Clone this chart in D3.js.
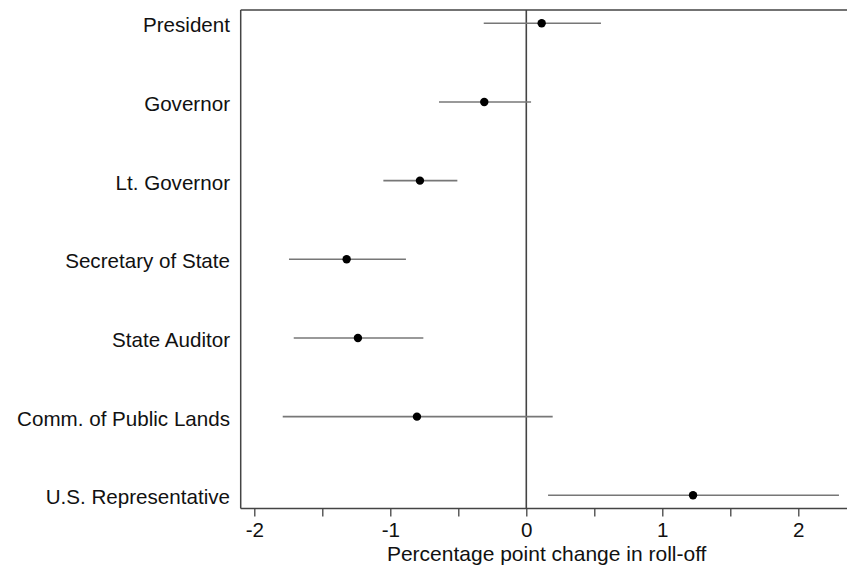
<!DOCTYPE html>
<html>
<head>
<meta charset="utf-8">
<script src="https://cdn.jsdelivr.net/npm/d3@7"></script>
<style>
  html, body { margin: 0; padding: 0; background: #fff; }
  svg { display: block; }
  text { font-family: "Liberation Sans", Arial, Helvetica, sans-serif; fill: #111; }
</style>
</head>
<body>
<svg id="chart" width="847" height="565"></svg>
<script>
const categories = ["President", "Governor", "Lt. Governor", "Secretary of State",
                    "State Auditor", "Comm. of Public Lands", "U.S. Representative"];
const estimates = [0.113, -0.309, -0.782, -1.321, -1.238, -0.804, 1.226];
const lowerCI   = [-0.313, -0.642, -1.051, -1.745, -1.710, -1.791, 0.160];
const upperCI   = [0.549, 0.035, -0.507, -0.885, -0.757, 0.194, 2.299];
const majorTicks = [-2, -1, 0, 1, 2];
const minorTicks = [-1.5, -0.5, 0.5, 1.5];
const xTitle = "Percentage point change in roll-off";

const FS = 20.6;
const svg = d3.select("#chart");
const plotLeft = 240.7, plotTop = 10, plotBottom = 508.5;
const x = d3.scaleLinear().domain([-2.1, 2.36]).range([plotLeft, plotLeft + 4.46 * 136]);
const y = d3.scalePoint().domain(categories).range([23.3, 495.3]);

const rows = categories.map((c, i) => ({c, est: estimates[i], lo: lowerCI[i], hi: upperCI[i]}));

// frame
svg.append("line").attr("x1", plotLeft).attr("x2", 847).attr("y1", plotTop).attr("y2", plotTop)
  .attr("stroke", "#444").attr("stroke-width", 1.5);
svg.append("line").attr("x1", plotLeft).attr("x2", plotLeft).attr("y1", plotTop).attr("y2", plotBottom)
  .attr("stroke", "#444").attr("stroke-width", 1.5);

// zero line
svg.append("line").attr("x1", x(0)).attr("x2", x(0)).attr("y1", plotTop).attr("y2", plotBottom)
  .attr("stroke", "#444").attr("stroke-width", 1.6);

// x axis
const axis = d3.axisBottom(x).tickValues(majorTicks.concat(minorTicks).sort((a,b)=>a-b))
  .tickSize(8).tickPadding(6)
  .tickFormat(d => majorTicks.includes(d) ? String(d) : "");
const gx = svg.append("g").attr("transform", `translate(0,${plotBottom})`).call(axis);
gx.select(".domain").attr("stroke", "#444").attr("stroke-width", 1.5)
  .attr("d", `M${plotLeft},0H847`);
gx.selectAll(".tick line").attr("stroke", "#444").attr("stroke-width", 1.3);
gx.selectAll(".tick text").attr("font-size", FS + "px").attr("fill", "#111")
  .style("font-family", '"Liberation Sans", Arial, sans-serif');

// x title
svg.append("text").attr("x", 546.7).attr("y", 560.7).attr("text-anchor", "middle")
  .attr("font-size", (FS + 0.4) + "px").text(xTitle);

// y labels
svg.append("g").selectAll("text").data(rows).join("text")
  .attr("x", 230).attr("y", d => y(d.c) + 9).attr("text-anchor", "end")
  .attr("font-size", FS + "px").text(d => d.c);

// error bars
svg.append("g").selectAll("line").data(rows).join("line")
  .attr("x1", d => x(d.lo)).attr("x2", d => x(d.hi))
  .attr("y1", d => y(d.c)).attr("y2", d => y(d.c))
  .attr("stroke", "#777").attr("stroke-width", 1.6);

// points
svg.append("g").selectAll("circle").data(rows).join("circle")
  .attr("cx", d => x(d.est)).attr("cy", d => y(d.c)).attr("r", 4.2)
  .attr("fill", "#000");
</script>
</body>
</html>
